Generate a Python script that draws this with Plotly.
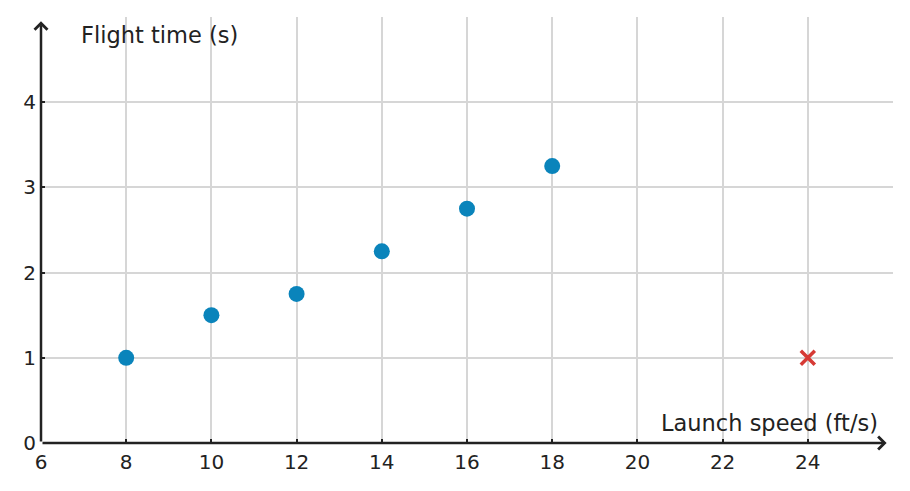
import plotly.graph_objects as go

# launch speed (ft/s) vs flight time (s)
speeds = [8, 10, 12, 14, 16, 18]
flight_times = [1, 1.5, 1.75, 2.25, 2.75, 3.25]

# the odd one out
outlier_speed = [24]
outlier_time = [1]

x_ticks = [6, 8, 10, 12, 14, 16, 18, 20, 22, 24]
y_ticks = [0, 1, 2, 3, 4]

AXIS_COLOR = "#222222"
GRID_COLOR = "#d6d6d6"
FONT = "DejaVu Sans"

fig = go.Figure()

fig.add_trace(go.Scatter(
    x=speeds, y=flight_times, mode="markers",
    marker=dict(size=16, color="#0a84bb"),
    hoverinfo="x+y",
))
fig.add_trace(go.Scatter(
    x=outlier_speed, y=outlier_time, mode="markers",
    marker=dict(size=14, color="#d63a35", symbol="x-thin",
                line=dict(width=3.5, color="#d63a35")),
    hoverinfo="x+y",
))

# axis arrows
fig.add_annotation(x=25.85, y=0, ax=6, ay=0, xref="x", yref="y", axref="x", ayref="y",
                   showarrow=True, arrowhead=4, arrowsize=1, arrowwidth=2.5,
                   arrowcolor=AXIS_COLOR, text="")
fig.add_annotation(x=6, y=4.95, ax=6, ay=0, xref="x", yref="y", axref="x", ayref="y",
                   showarrow=True, arrowhead=4, arrowsize=1, arrowwidth=2.5,
                   arrowcolor=AXIS_COLOR, text="")

fig.add_annotation(x=6.9, y=4.79, xref="x", yref="y", text="Flight time (s)",
                   showarrow=False, xanchor="left", yanchor="middle",
                   font=dict(size=22.5, color=AXIS_COLOR, family=FONT))
fig.add_annotation(x=25.7, y=0.24, xref="x", yref="y", text="Launch speed (ft/s)",
                   showarrow=False, xanchor="right", yanchor="middle",
                   font=dict(size=22.5, color=AXIS_COLOR, family=FONT))

fig.update_xaxes(
    range=[6, 26], tickvals=x_ticks, showgrid=True, gridcolor=GRID_COLOR, gridwidth=1.5,
    zeroline=False, showline=False, ticks="inside", ticklen=4, tickwidth=2,
    tickcolor=AXIS_COLOR, tickfont=dict(size=20, color=AXIS_COLOR, family=FONT),
    ticklabelstandoff=5, fixedrange=True,
)
fig.update_yaxes(
    range=[0, 5], tickvals=y_ticks, showgrid=True, gridcolor=GRID_COLOR, gridwidth=1.5,
    zeroline=False, showline=False, ticks="inside", ticklen=4, tickwidth=2,
    tickcolor=AXIS_COLOR, tickfont=dict(size=20, color=AXIS_COLOR, family=FONT),
    ticklabelstandoff=4, fixedrange=True,
)

fig.update_layout(
    width=910, height=491,
    margin=dict(l=33, r=25, t=9, b=56),
    plot_bgcolor="white", paper_bgcolor="white",
    showlegend=False,
    font=dict(family=FONT),
)

fig.write_html("out.html")
